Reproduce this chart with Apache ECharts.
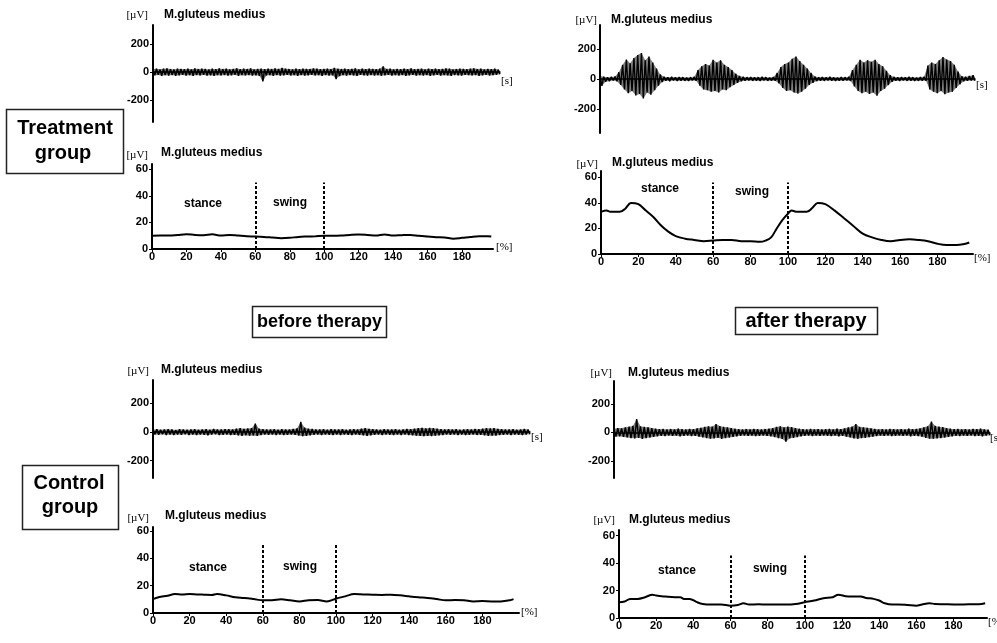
<!DOCTYPE html>
<html>
<head>
<meta charset="utf-8">
<script src="https://cdn.jsdelivr.net/npm/echarts@6/dist/echarts.min.js"></script>
<style>html,body{margin:0;padding:0;background:#fff}#c{width:997px;height:643px}</style>
</head>
<body>
<div id="c"></div>
<script>
// ---------- DATA ----------
// Raw EMG traces: upper / lower excursion (µV) read at 100 positions along the recording
const rawBeforeTreatHi = [22,25,20,24,26,22,19,25,23,21, 24,20,26,22,25,23,19,24,21,26, 22,25,20,23,27,21,24,22,26,20, 23,25,21,24,22,26,23,30,25,22, 20,24,21,25,23,22,26,24,21,23, 25,22,30,24,22,25,21,23,26,20, 24,22,25,23,21,24,41,22,25,20, 23,21,24,22,26,21,23,25,20,24, 22,25,21,23,26,24,20,22,25,23, 21,24,27,22,25,20,23,21,24,18];
const rawBeforeTreatLo = [-24,-20,-26,-22,-25,-21,-27,-23,-20,-25, -22,-26,-21,-24,-20,-25,-23,-27,-22,-24, -21,-25,-23,-20,-26,-22,-24,-21,-25,-23, -27,-67,-24,-22,-26,-21,-25,-23,-20,-24, -22,-26,-21,-25,-23,-20,-24,-22,-26,-21, -25,-23,-50,-28,-22,-25,-21,-24,-26,-20, -23,-25,-21,-24,-22,-26,-23,-20,-25,-22, -24,-21,-26,-23,-20,-25,-22,-24,-21,-26, -23,-20,-25,-22,-24,-27,-21,-23,-25,-20, -22,-24,-21,-26,-23,-20,-24,-22,-19,-15];

const rawAfterTreatHi = [20,15,12,14,16,45,95,130,105,140, 160,173,125,150,110,70,30,15,12,14, 11,13,12,10,12,14,60,85,100,90, 128,110,125,95,80,60,35,20,14,12, 13,11,12,14,12,10,13,40,80,100, 110,135,150,120,95,70,40,16,12,13, 11,14,12,10,13,12,14,60,95,128, 110,125,115,128,100,85,55,25,14,12, 13,11,14,12,10,13,15,90,110,100, 125,146,130,120,95,50,18,14,20,25];
const rawAfterTreatLo = [-45,-18,-14,-10,-15,-40,-70,-95,-80,-110, -100,-130,-90,-105,-75,-45,-20,-12,-14,-10, -13,-11,-12,-13,-10,-12,-45,-70,-75,-85, -80,-90,-70,-75,-55,-40,-25,-15,-12,-10, -12,-11,-13,-10,-12,-11,-12,-30,-60,-80, -75,-90,-97,-85,-65,-40,-25,-14,-11,-12, -10,-12,-13,-11,-12,-10,-13,-50,-80,-95, -85,-100,-90,-112,-80,-65,-40,-18,-12,-13, -10,-12,-11,-13,-12,-11,-12,-70,-85,-95, -80,-101,-90,-85,-60,-35,-15,-12,-10,-12];

const rawBeforeCtrlHi = [15,18,14,17,19,16,13,18,17,15, 16,19,14,17,18,15,20,17,16,18, 19,17,22,25,21,24,26,58,22,18, 17,16,19,15,18,17,16,20,24,70, 30,22,20,17,16,18,15,19,17,16, 18,15,17,19,16,22,25,21,18,17, 15,19,16,17,18,15,17,20,19,22, 26,28,24,27,25,22,19,17,18,16, 19,15,17,18,16,20,18,22,26,24, 25,21,18,17,16,19,15,17,20,16];
const rawBeforeCtrlLo = [-18,-20,-17,-22,-19,-21,-18,-20,-17,-22, -19,-21,-18,-20,-23,-19,-17,-21,-20,-18, -22,-20,-24,-27,-23,-26,-25,-28,-22,-19, -20,-18,-21,-19,-22,-20,-18,-21,-25,-30, -27,-23,-20,-19,-21,-18,-20,-22,-19,-21, -18,-20,-22,-19,-21,-24,-27,-23,-20,-19, -21,-18,-20,-22,-19,-21,-18,-22,-24,-26, -28,-30,-27,-29,-26,-23,-21,-19,-20,-18, -21,-19,-22,-20,-18,-21,-20,-24,-27,-26, -25,-22,-20,-19,-21,-18,-20,-22,-19,-17];

const rawAfterCtrlHi = [25,30,28,35,40,45,93,42,38,35, 30,26,22,24,20,23,21,25,22,20, 24,22,28,32,38,42,40,58,44,38, 35,30,25,22,20,23,21,24,22,20, 23,26,30,38,42,35,40,36,30,25, 22,20,24,21,23,20,22,24,21,25, 22,28,34,40,58,38,35,32,28,24, 21,23,20,24,22,21,23,20,25,22, 24,28,35,42,75,45,40,36,30,26, 22,24,21,23,20,24,22,25,21,18];
const rawAfterCtrlLo = [-30,-28,-32,-36,-40,-42,-38,-45,-40,-36, -32,-28,-24,-26,-22,-25,-23,-27,-24,-22, -26,-24,-30,-35,-40,-44,-42,-38,-45,-40, -36,-32,-27,-24,-22,-25,-23,-26,-24,-22, -25,-28,-33,-40,-45,-66,-42,-38,-33,-28, -24,-22,-26,-23,-25,-22,-24,-26,-23,-27, -24,-30,-36,-42,-45,-40,-38,-34,-30,-26, -23,-25,-22,-26,-24,-23,-25,-22,-27,-24, -26,-30,-38,-44,-45,-42,-40,-36,-32,-28, -24,-26,-23,-25,-22,-26,-24,-27,-23,-20];

// Averaged envelopes over two gait cycles: x = % of gait cycle, y = µV
const envBeforeTreatX = [0,5,10,15,20,25,30,35,40,45,50,55,60,65,70,75,80,85,90,95,100,105,110,115,120,125,130,135,140,145,150,155,160,165,170,175,180,185,190,195,197];
const envBeforeTreatY = [9.9,10.1,10.1,10.6,11.1,10.6,10.4,11.1,10.1,10.6,10.1,9.6,9.4,9.1,8.6,8.1,8.4,9.1,9.4,9.6,9.9,9.9,10.1,10.6,10.9,10.6,10.1,10.9,10.1,10.4,10.6,9.9,9.4,8.9,8.6,7.8,8.4,9.1,9.6,9.6,9.4];

const envAfterTreatX = [0,3,5,10,13,16,20,24,28,32,36,40,45,50,55,60,65,70,75,80,85,88,91,94,97,100,102,105,110,113,116,120,125,130,135,140,145,150,155,160,165,170,175,180,185,190,195,197];
const envAfterTreatY = [33,34,33,33,35.5,40,39,34,29,22.5,17.5,14,12,11,10,10.5,11,11,10,10,9.5,10.5,13,20,26.5,31.5,34,33,33,36,40,39,34,28,22,16,13,11,10,11,11.5,11,10,8,7,7,8,9];

const envBeforeCtrlX = [0,3,8,12,16,20,24,28,32,35,40,45,50,55,60,65,70,75,80,85,90,95,100,105,110,115,120,125,130,135,140,145,150,155,160,165,170,175,180,185,190,195,197];
const envBeforeCtrlY = [10.2,11.5,12.7,13.9,13.6,13.9,13.6,13.4,13.2,13.9,12.9,11.5,11.0,10.2,9.3,9.3,10.0,9.3,8.5,9.3,9.5,8.5,10.5,12.2,13.9,13.6,13.4,13.2,13.4,13.0,12.2,11.5,11.0,10.2,9.3,9.5,9.3,8.5,8.7,8.5,8.5,9.3,10.2];

const envAfterCtrlX = [0,3,6,10,14,18,20,25,30,33,35,38,42,45,50,55,60,64,67,70,75,80,85,90,95,100,105,110,115,118,122,125,130,133,137,140,143,147,150,155,160,163,167,170,175,180,185,190,195,197];
const envAfterCtrlY = [11.5,12,13.9,13.9,15.1,17,16.3,15.6,15.1,15.1,13.9,13.9,11.5,10.2,9.8,9.8,9.0,9.5,10.7,9.8,10,9.8,9.8,9.8,10.2,11.5,12.7,14.4,15.1,17,15.9,15.6,15.6,14.6,13.9,12.7,10.7,9.8,9.8,9.5,9.0,9.8,10.7,10.2,10,9.8,9.8,10,10.2,10.7];

// Gait phase boundaries (%) and tick labels
const phaseBounds = [60, 100];
const pctTicks = [0,20,40,60,80,100,120,140,160,180];
const rawTicks = [-200, 0, 200];
const envTicks = [0, 20, 40, 60];
const muscle = 'M.gluteus medius';
const unitY = '[µV]';

// ---------- LAYOUT ----------
const SANS = "'Liberation Sans', Arial, sans-serif";
const NARROW = "'Liberation Sans Narrow', 'Liberation Sans', Arial, sans-serif";
const SERIF = "'Liberation Serif', 'Times New Roman', serif";

const panels = [
  {kind:'raw', hi:rawBeforeTreatHi, lo:rawBeforeTreatLo, grid:{left:153,top:25,width:347,height:97}, yMin:-360, yMax:340,
   title:[164,15], unit:[148,15], xu:['[s]',501,81]},
  {kind:'env', x:envBeforeTreatX, y:envBeforeTreatY, grid:{left:152,top:164,width:341,height:85}, xMax:198, yMax:64, dashTop:50,
   title:[161,153], unit:[148,155], xu:['[%]',496,247], stance:[203,204], swing:[290,203]},
  {kind:'raw', hi:rawAfterTreatHi, lo:rawAfterTreatLo, grid:{left:600,top:25,width:375,height:108}, yMin:-360, yMax:360,
   title:[611,20], unit:[597,20], xu:['[s]',976,85]},
  {kind:'env', x:envAfterTreatX, y:envAfterTreatY, grid:{left:601,top:171,width:372,height:83}, xMax:199, yMax:65, dashTop:56,
   title:[612,163], unit:[598,164], xu:['[%]',974,258], stance:[660,189], swing:[752,192]},
  {kind:'raw', hi:rawBeforeCtrlHi, lo:rawBeforeCtrlLo, grid:{left:153,top:380,width:377,height:98}, yMin:-320, yMax:360,
   title:[161,370], unit:[149,371], xu:['[s]',531,437]},
  {kind:'env', x:envBeforeCtrlX, y:envBeforeCtrlY, grid:{left:153,top:527,width:366,height:86}, xMax:200, yMax:63, dashTop:50,
   title:[165,516], unit:[149,518], xu:['[%]',521,612], stance:[208,568], swing:[300,567]},
  {kind:'raw', hi:rawAfterCtrlHi, lo:rawAfterCtrlLo, grid:{left:614,top:381,width:376,height:97}, yMin:-320, yMax:360,
   title:[628,373], unit:[612,373], xu:['[s]',990,438]},
  {kind:'env', x:envAfterCtrlX, y:envAfterCtrlY, grid:{left:619,top:530,width:368,height:88}, xMax:198, yMax:64, dashTop:45.5,
   title:[629,520], unit:[615,520], xu:['[%]',988,622], stance:[677,571], swing:[770,569]}
];

const grids = [], xAxes = [], yAxes = [], series = [], graphics = [];

function txt(text, x, y, size, weight, family, align, valign) {
  graphics.push({type:'text', silent:true, z:10, style:{text, x, y, fontSize:size, fontWeight:weight, fontFamily:family,
    fill:'#000', textAlign:align || 'left', textVerticalAlign: valign || 'middle'}});
}

panels.forEach((p, i) => {
  grids.push(Object.assign({outerBoundsMode:'none', containLabel:false}, p.grid));
  const axLine = {show:true, onZero:true, lineStyle:{color:'#000', width:2}};
  const lblStyle = {color:'#000', fontSize:11, fontWeight:'bold', fontFamily:NARROW};
  if (p.kind === 'raw') {
    xAxes.push({type:'value', gridIndex:i, min:0, max:99.5, axisLine:{show:true, onZero:true, lineStyle:{color:'#000', width:1.5}},
      axisTick:{show:false}, axisLabel:{show:false}, splitLine:{show:false}});
    yAxes.push({type:'value', gridIndex:i, min:p.yMin, max:p.yMax, axisLine:axLine,
      axisTick:{show:true, length:3, customValues:rawTicks, lineStyle:{color:'#000', width:1}},
      axisLabel:Object.assign({customValues:rawTicks, margin:4}, lblStyle), splitLine:{show:false}});
    // filled band between the lower and upper excursions, placed through the axis scales
    const hi = p.hi, lo = p.lo;
    series.push({type:'custom', xAxisIndex:i, yAxisIndex:i, silent:true, animation:false, z:2,
      data:[[0, 0]], encode:{x:0, y:1},
      renderItem:(params, api) => {
        const pts = [];
        hi.forEach((v, k) => pts.push(api.coord([k, v])));
        for (let k = lo.length - 1; k >= 0; k--) pts.push(api.coord([k + 0.5, lo[k]]));
        return {type:'polygon', shape:{points:pts}, style:{fill:'#000', opacity:0.5}};
      }});
    // spiky trace
    const d = [];
    hi.forEach((h, k) => { d.push([k, h]); d.push([k + 0.5, lo[k]]); });
    series.push({type:'line', xAxisIndex:i, yAxisIndex:i, data:d, symbol:'none', showSymbol:false, silent:true,
      lineStyle:{color:'#000', width:1.4}, animation:false, sampling:null, z:3});
  } else {
    xAxes.push({type:'value', gridIndex:i, min:0, max:p.xMax, axisLine:axLine,
      axisTick:{show:true, length:3, customValues:pctTicks, lineStyle:{color:'#000', width:1}},
      axisLabel:Object.assign({customValues:pctTicks, margin:2}, lblStyle), splitLine:{show:false}});
    yAxes.push({type:'value', gridIndex:i, min:0, max:p.yMax, axisLine:axLine,
      axisTick:{show:true, length:3, customValues:envTicks, lineStyle:{color:'#000', width:1}},
      axisLabel:Object.assign({customValues:envTicks, margin:4}, lblStyle), splitLine:{show:false}});
    series.push({type:'line', xAxisIndex:i, yAxisIndex:i, data:p.x.map((x, k) => [x, p.y[k]]), symbol:'none', showSymbol:false,
      smooth:0.35, silent:true, lineStyle:{color:'#000', width:2}, animation:false, z:3,
      markLine:{silent:true, symbol:['none','none'], label:{show:false},
        lineStyle:{color:'#000', width:2, type:[3,2]},
        data: phaseBounds.map(b => [{coord:[b, 0]}, {coord:[b, p.dashTop]}])}});
    txt('stance', p.stance[0], p.stance[1], 12, 'bold', SANS, 'center');
    txt('swing', p.swing[0], p.swing[1], 12, 'bold', SANS, 'center');
  }
  txt(muscle, p.title[0], p.title[1], 12, 'bold', SANS, 'left');
  txt(unitY, p.unit[0], p.unit[1], 11, 'normal', SERIF, 'right');
  txt(p.xu[0], p.xu[1], p.xu[2], 11, 'normal', SERIF, 'left');
});

// group / condition boxes
function box(x, y, w, h) {
  graphics.push({type:'rect', silent:true, z:1, shape:{x, y, width:w, height:h}, style:{fill:'none', stroke:'#222', lineWidth:1.5}});
}
box(6.5, 109.5, 117, 64);
txt('Treatment', 65, 128, 20, 'bold', SANS, 'center');
txt('group', 63, 153, 20, 'bold', SANS, 'center');
box(22.5, 465.5, 96, 64);
txt('Control', 69, 483, 20, 'bold', SANS, 'center');
txt('group', 70, 507, 20, 'bold', SANS, 'center');
box(252.5, 306.5, 134, 31);
txt('before therapy', 319.5, 322, 18, 'bold', SANS, 'center');
box(735.5, 307.5, 142, 27);
txt('after therapy', 806, 321, 20, 'bold', SANS, 'center');

const chart = echarts.init(document.getElementById('c'), null, {renderer:'canvas'});
chart.setOption({
  animation:false,
  backgroundColor:'#fff',
  grid:grids, xAxis:xAxes, yAxis:yAxes, series,
  graphic:{elements:graphics}
});
</script>
</body>
</html>
